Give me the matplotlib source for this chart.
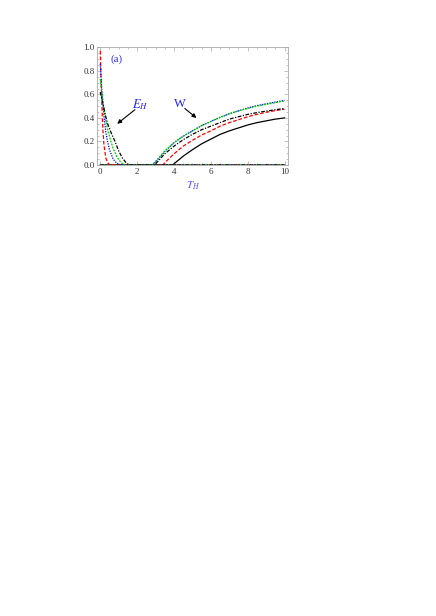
import numpy as np
import matplotlib
matplotlib.use("Agg")
import matplotlib.pyplot as plt

plt.rcParams["mathtext.fontset"] = "stix"

# E_H curves (sampled), zero afterwards
eh_black_x = [0, 0.1, 0.2, 0.3, 0.4, 0.6, 0.8, 1.0, 1.2, 1.4, 1.55, 10]
eh_black_y = [0.62, 0.55, 0.48, 0.41, 0.35, 0.27, 0.20, 0.12, 0.06, 0.02, 0.0, 0.0]
eh_green_x = [0, 0.05, 0.1, 0.2, 0.3, 0.4, 0.56, 0.7, 0.9, 1.1, 1.3, 10]
eh_green_y = [0.73, 0.66, 0.60, 0.48, 0.38, 0.30, 0.21, 0.14, 0.07, 0.025, 0.0, 0.0]
eh_blue_x = [0, 0.05, 0.1, 0.2, 0.3, 0.38, 0.5, 0.7, 0.9, 1.1, 10]
eh_blue_y = [0.86, 0.72, 0.60, 0.42, 0.28, 0.21, 0.13, 0.05, 0.015, 0.0, 0.0]
eh_red_x = [0, 0.05, 0.1, 0.15, 0.2, 0.3, 0.4, 0.5, 10]
eh_red_y = [0.97, 0.70, 0.45, 0.28, 0.17, 0.06, 0.02, 0.0, 0.0]

# W curves (sampled), zero before threshold
w_green_x = [0, 2.8, 3.0, 3.5, 4.0, 4.5, 5.0, 5.5, 6.0, 6.5, 7.0, 7.5, 8.0, 8.5, 9.0, 9.5, 10]
w_green_y = [0, 0, 0.03, 0.12, 0.19, 0.245, 0.29, 0.335, 0.37, 0.405, 0.435, 0.46, 0.48, 0.50, 0.515, 0.53, 0.545]
w_blue_x = [0, 2.85, 3.0, 3.5, 4.0, 4.5, 5.0, 5.5, 6.0, 6.5, 7.0, 7.5, 8.0, 8.5, 9.0, 9.5, 10]
w_blue_y = [0, 0, 0.025, 0.115, 0.19, 0.245, 0.29, 0.335, 0.37, 0.405, 0.435, 0.46, 0.485, 0.505, 0.52, 0.535, 0.55]
w_bdash_x = [0, 2.95, 3.0, 3.5, 4.0, 4.5, 5.0, 5.5, 6.0, 6.5, 7.0, 7.5, 8.0, 8.5, 9.0, 9.5, 10]
w_bdash_y = [0, 0, 0.01, 0.095, 0.16, 0.215, 0.26, 0.30, 0.33, 0.36, 0.39, 0.41, 0.43, 0.445, 0.458, 0.47, 0.48]
w_red_x = [0, 3.4, 3.5, 4.0, 4.5, 5.0, 5.5, 6.0, 6.5, 7.0, 7.5, 8.0, 8.5, 9.0, 9.5, 10]
w_red_y = [0, 0, 0.02, 0.095, 0.16, 0.21, 0.255, 0.29, 0.33, 0.36, 0.385, 0.41, 0.43, 0.448, 0.462, 0.475]
w_black_x = [0, 3.95, 4.0, 4.5, 5.0, 5.5, 6.0, 6.5, 7.0, 7.5, 8.0, 8.5, 9.0, 9.5, 10]
w_black_y = [0, 0, 0.01, 0.075, 0.13, 0.18, 0.22, 0.26, 0.29, 0.315, 0.34, 0.36, 0.375, 0.39, 0.40]

x_ticks = [0, 2, 4, 6, 8, 10]
y_ticks = [0.0, 0.2, 0.4, 0.6, 0.8, 1.0]

fig = plt.figure(figsize=(4.36, 6.16), dpi=100)
ax = fig.add_axes([0.2232, 0.7321, 0.661 - 0.2232, 0.9232 - 0.7321])

lw = 0.9
GREEN = "#00cc00"
DASH = (0, (3, 1.5))
DOT = (0, (1, 1))
GDOT = (0, (1.5, 1))
DASHDOT = (0, (3, 1.2, 1, 1.2))
# W curves
ax.plot(w_black_x, w_black_y, color="black", lw=lw, ls="-")
ax.plot(w_red_x, w_red_y, color="red", lw=lw, ls=DASH)
ax.plot(w_bdash_x, w_bdash_y, color="black", lw=lw, ls=DASHDOT)
ax.plot(w_blue_x, w_blue_y, color="blue", lw=lw, ls=DOT)
ax.plot(w_green_x, w_green_y, color=GREEN, lw=lw, ls=GDOT)
# E_H curves
ax.plot([0, 10], [0, 0], color="black", lw=lw, ls="-")
ax.plot(eh_red_x, eh_red_y, color="red", lw=lw, ls=DASH)
ax.plot(eh_blue_x, eh_blue_y, color="blue", lw=lw, ls=DOT)
ax.plot(eh_green_x, eh_green_y, color=GREEN, lw=lw, ls=GDOT)
ax.plot(eh_black_x, eh_black_y, color="black", lw=lw, ls=DASHDOT)

ax.set_xlim(-0.16, 10.2)
ax.set_ylim(0, 1.0)
ax.set_xticks(x_ticks)
ax.set_yticks(y_ticks)
ax.set_xticklabels([str(t) for t in x_ticks])
ax.set_yticklabels(["%.1f" % t for t in y_ticks])
ax.set_xticks(np.arange(0, 10.01, 0.5), minor=True)
ax.set_yticks(np.arange(0, 1.001, 0.05), minor=True)
for s in ax.spines.values():
    s.set_color("#aaaaaa")
    s.set_linewidth(0.6)
ax.tick_params(which="both", direction="in", top=True, right=True, color="#aaaaaa",
               labelsize=6.5, labelcolor="#333333", width=0.5, pad=2)
ax.tick_params(which="major", length=3)
ax.tick_params(which="minor", length=1.5)
for lab in ax.get_xticklabels() + ax.get_yticklabels():
    lab.set_family("Liberation Serif")

ax.set_xlabel(r"$T_H$", color="#5555ff", fontsize=8, labelpad=3)
ax.text(0.9, 0.9, "(a)", color="#3333ff", fontsize=8, family="Liberation Serif",
        ha="center", va="center")
ax.text(2.15, 0.51, r"$E_H$", color="#2222ff", fontsize=9, ha="center", va="center")
ax.text(4.32, 0.515, "W", color="#2222ff", fontsize=9, ha="center", va="center",
        family="Liberation Serif")
ax.annotate("", xy=(0.92, 0.35), xytext=(1.88, 0.47),
            arrowprops=dict(arrowstyle="-|>", color="black", lw=0.8, mutation_scale=6,
                            shrinkA=0, shrinkB=0))
ax.annotate("", xy=(5.22, 0.40), xytext=(4.59, 0.48),
            arrowprops=dict(arrowstyle="-|>", color="black", lw=0.8, mutation_scale=6,
                            shrinkA=0, shrinkB=0))

fig.savefig("out.png", dpi=100)
